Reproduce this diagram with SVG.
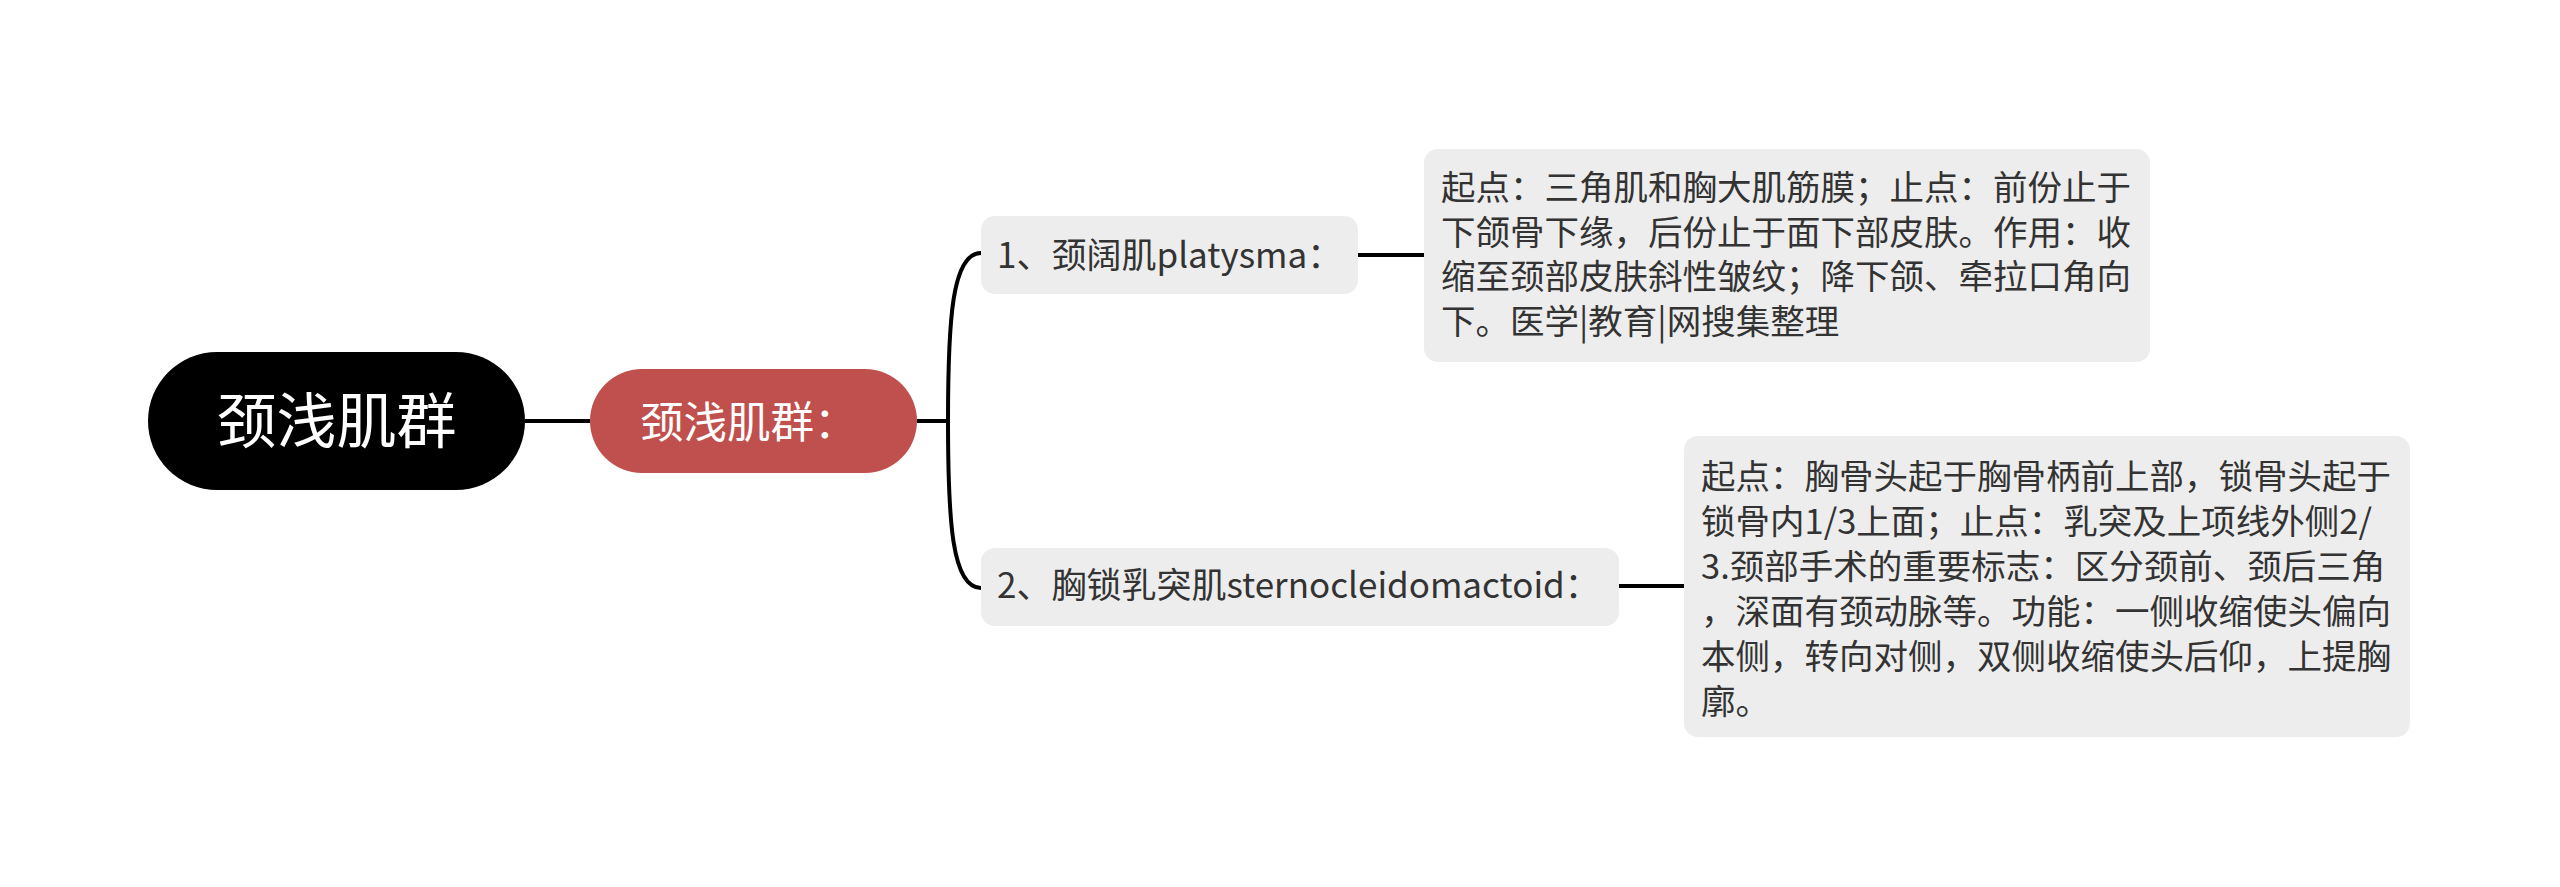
<svg xmlns="http://www.w3.org/2000/svg" width="2560" height="887" viewBox="0 0 2560 887">
<style>
text{font-family:"Noto Sans CJK SC","Noto Sans",sans-serif}
.conn{fill:none;stroke:#000;stroke-width:4}
.box{fill:#ededed}
.t{fill:#333;font-size:34.5px}
.n{fill:#333;font-size:35px}
</style>
<rect width="2560" height="887" fill="#fff"/>
<g id="connectors">
<path class="conn" d="M525 421 H590"/>
<path class="conn" d="M917 421 H948"/>
<path class="conn" d="M981 253 C952 253 948 320 948 421 C948 522 952 588 981 588"/>
<path class="conn" d="M1358 255 H1424"/>
<path class="conn" d="M1619 586 H1684"/>
</g>
<g id="root">
<rect x="148" y="352" width="377" height="138" rx="69" fill="#000"/>
<text x="336.5" y="443" text-anchor="middle" font-size="60" fill="#fff">颈浅肌群</text>
</g>
<g id="main">
<rect x="590" y="369" width="327" height="104" rx="52" fill="#c0504d"/>
<text x="640" y="438" font-size="43.5" fill="#fff">颈浅肌群：</text>
</g>
<g id="n1">
<rect class="box" x="981" y="216" width="377" height="78" rx="14"/>
<text class="n" x="997" y="268">1、颈阔肌platysma：</text>
</g>
<g id="n2">
<rect class="box" x="981" y="548" width="638" height="78" rx="14"/>
<text class="n" x="997" y="598">2、胸锁乳突肌sternocleidomactoid：</text>
</g>
<g id="d1">
<rect class="box" x="1424" y="149" width="726" height="213" rx="14"/>
<text class="t"><tspan x="1441" y="200">起点：三角肌和胸大肌筋膜；止点：前份止于</tspan><tspan x="1441" y="245">下颌骨下缘，后份止于面下部皮肤。作用：收</tspan><tspan x="1441" y="289">缩至颈部皮肤斜性皱纹；降下颌、牵拉口角向</tspan><tspan x="1441" y="334">下。医学|教育|网搜集整理</tspan></text>
</g>
<g id="d2">
<rect class="box" x="1684" y="436" width="726" height="301" rx="14"/>
<text class="t"><tspan x="1701" y="489">起点：胸骨头起于胸骨柄前上部，锁骨头起于</tspan><tspan x="1701" y="534">锁骨内1/3上面；止点：乳突及上项线外侧2/</tspan><tspan x="1701" y="579">3.颈部手术的重要标志：区分颈前、颈后三角</tspan><tspan x="1701" y="624">，深面有颈动脉等。功能：一侧收缩使头偏向</tspan><tspan x="1701" y="669">本侧，转向对侧，双侧收缩使头后仰，上提胸</tspan><tspan x="1701" y="714">廓。</tspan></text>
</g>
</svg>
